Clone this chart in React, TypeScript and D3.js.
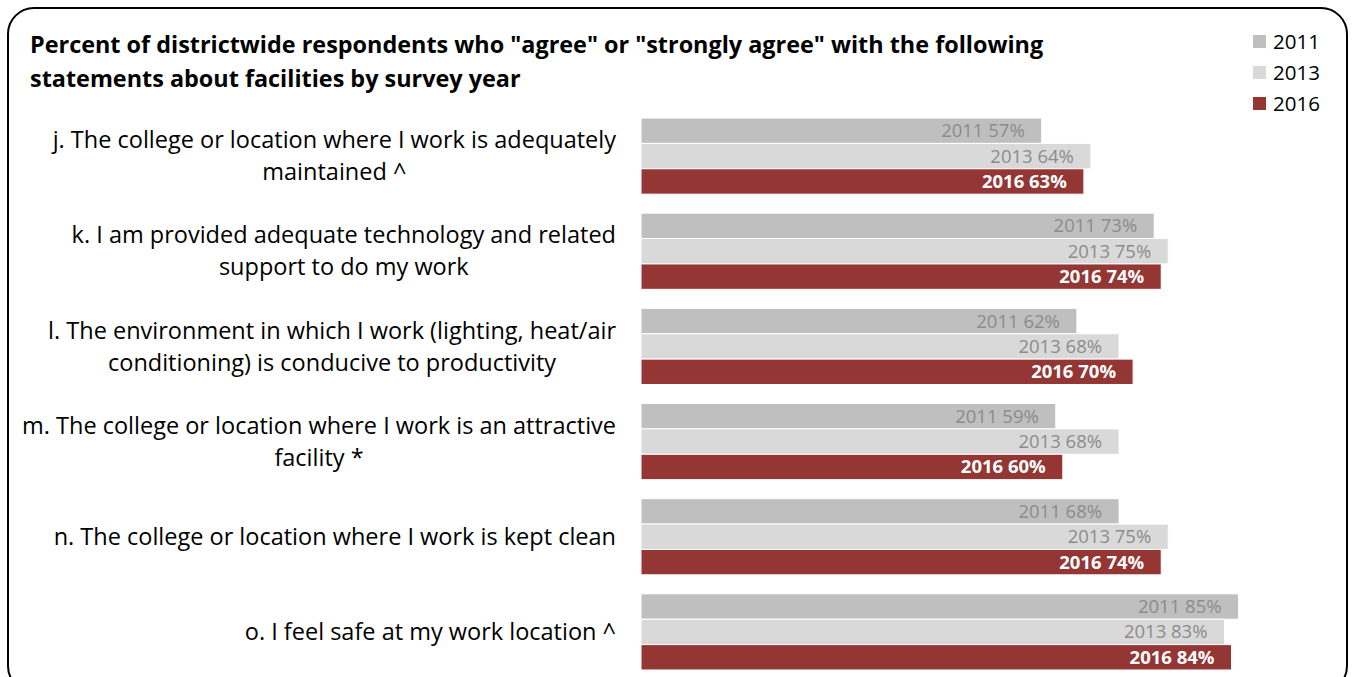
import React, { useEffect, useRef } from 'react';
import * as d3 from 'd3';

const categories = ['j', 'k', 'l', 'm', 'n', 'o'];
const categoryLabels = [
  ['j. The college or location where I work is adequately', 'maintained ^'],
  ['k. I am provided adequate technology and related', 'support to do my work'],
  ['l. The environment in which I work (lighting, heat/air', 'conditioning) is conducive to productivity'],
  ['m. The college or location where I work is an attractive', 'facility *'],
  ['n. The college or location where I work is kept clean'],
  ['o. I feel safe at my work location ^'],
];
const years = ['2011', '2013', '2016'];
const values2011 = [57, 73, 62, 59, 68, 85];
const values2013 = [64, 75, 68, 68, 75, 83];
const values2016 = [63, 74, 70, 60, 74, 84];
const seriesValues = [values2011, values2013, values2016];
const colors = ['#bfbfbf', '#d9d9d9', '#943634'];
const titleLines = [
  'Percent of districtwide respondents who "agree" or "strongly agree" with the following',
  'statements about facilities by survey year',
];

const FONT = '"Open Sans", "Noto Sans", sans-serif';

export default function App() {
  const svgRef = useRef<SVGSVGElement>(null);

  useEffect(() => {
    if (!svgRef.current) return;
    const width = 1352;
    const height = 677;
    const svg = d3.select(svgRef.current);
    svg.selectAll('*').remove();
    svg.attr('width', width).attr('height', height);

    // frame
    svg.append('rect')
      .attr('x', 8).attr('y', 8)
      .attr('width', 1339).attr('height', 684)
      .attr('rx', 26).attr('ry', 26)
      .attr('fill', '#fff')
      .attr('stroke', '#000')
      .attr('stroke-width', 2);

    // title
    svg.append('g').selectAll('text')
      .data(titleLines)
      .enter()
      .append('text')
      .attr('x', 30)
      .attr('y', (_, i) => 45 + i * 34)
      .attr('dy', '0.35em')
      .attr('font-family', FONT)
      .attr('font-weight', 700)
      .attr('font-size', 23.4)
      .attr('fill', '#000')
      .text(d => d);

    const x = d3.scaleLinear().domain([0, 100]).range([641, 1344]);
    const y0 = d3.scaleBand<string>()
      .domain(categories)
      .range([108.5, 679.5])
      .paddingInner(0.2)
      .paddingOuter(0.1);
    const y1 = d3.scaleBand<string>()
      .domain(years)
      .range([0, y0.bandwidth()]);

    const groups = svg.append('g').selectAll('g')
      .data(categories)
      .enter()
      .append('g')
      .attr('transform', d => `translate(0,${y0(d)})`);

    groups.each(function (cat, ci) {
      const g = d3.select(this);
      years.forEach((yr, si) => {
        const v = seriesValues[si][ci];
        g.append('rect')
          .attr('x', x(0))
          .attr('y', y1(yr)!)
          .attr('width', x(v) - x(0))
          .attr('height', y1.bandwidth())
          .attr('fill', colors[si])
          .attr('stroke', '#fff')
          .attr('stroke-width', 1);
        g.append('text')
          .attr('x', x(v) - 17)
          .attr('y', y1(yr)! + y1.bandwidth() / 2)
          .attr('dy', '0.35em')
          .attr('text-anchor', 'end')
          .attr('font-family', FONT)
          .attr('font-size', 18.5)
          .attr('font-weight', si === 2 ? 700 : 400)
          .attr('fill', si === 2 ? '#fff' : '#8c8c8c')
          .text(`${yr} ${v}%`);
      });

      // category label, centered block with right edge at 616
      const lines = categoryLabels[ci];
      const lab = g.append('g');
      const mid = y0.bandwidth() / 2;
      const texts = lab.selectAll('text')
        .data(lines)
        .enter()
        .append('text')
        .attr('x', 0)
        .attr('y', (_, i) => mid + (i - (lines.length - 1) / 2) * 32)
        .attr('dy', '0.35em')
        .attr('text-anchor', 'middle')
        .attr('font-family', FONT)
        .attr('font-size', 23.5)
        .attr('fill', '#000')
        .text(d => d);
      let maxW = 0;
      texts.each(function () {
        maxW = Math.max(maxW, (this as SVGTextElement).getComputedTextLength());
      });
      lab.attr('transform', `translate(${616 - maxW / 2},0)`);
    });

    // legend
    const legend = svg.append('g');
    years.forEach((yr, i) => {
      legend.append('rect')
        .attr('x', 1253).attr('y', 35 + i * 31)
        .attr('width', 13).attr('height', 13)
        .attr('fill', colors[i]);
      legend.append('text')
        .attr('x', 1273).attr('y', 42 + i * 31)
        .attr('dy', '0.35em')
        .attr('font-family', FONT)
        .attr('font-size', 20.5)
        .attr('fill', '#000')
        .text(yr);
    });
  }, []);

  return (
    <svg ref={svgRef} style={{ position: 'absolute', left: 0, top: 0, display: 'block' }} />
  );
}
